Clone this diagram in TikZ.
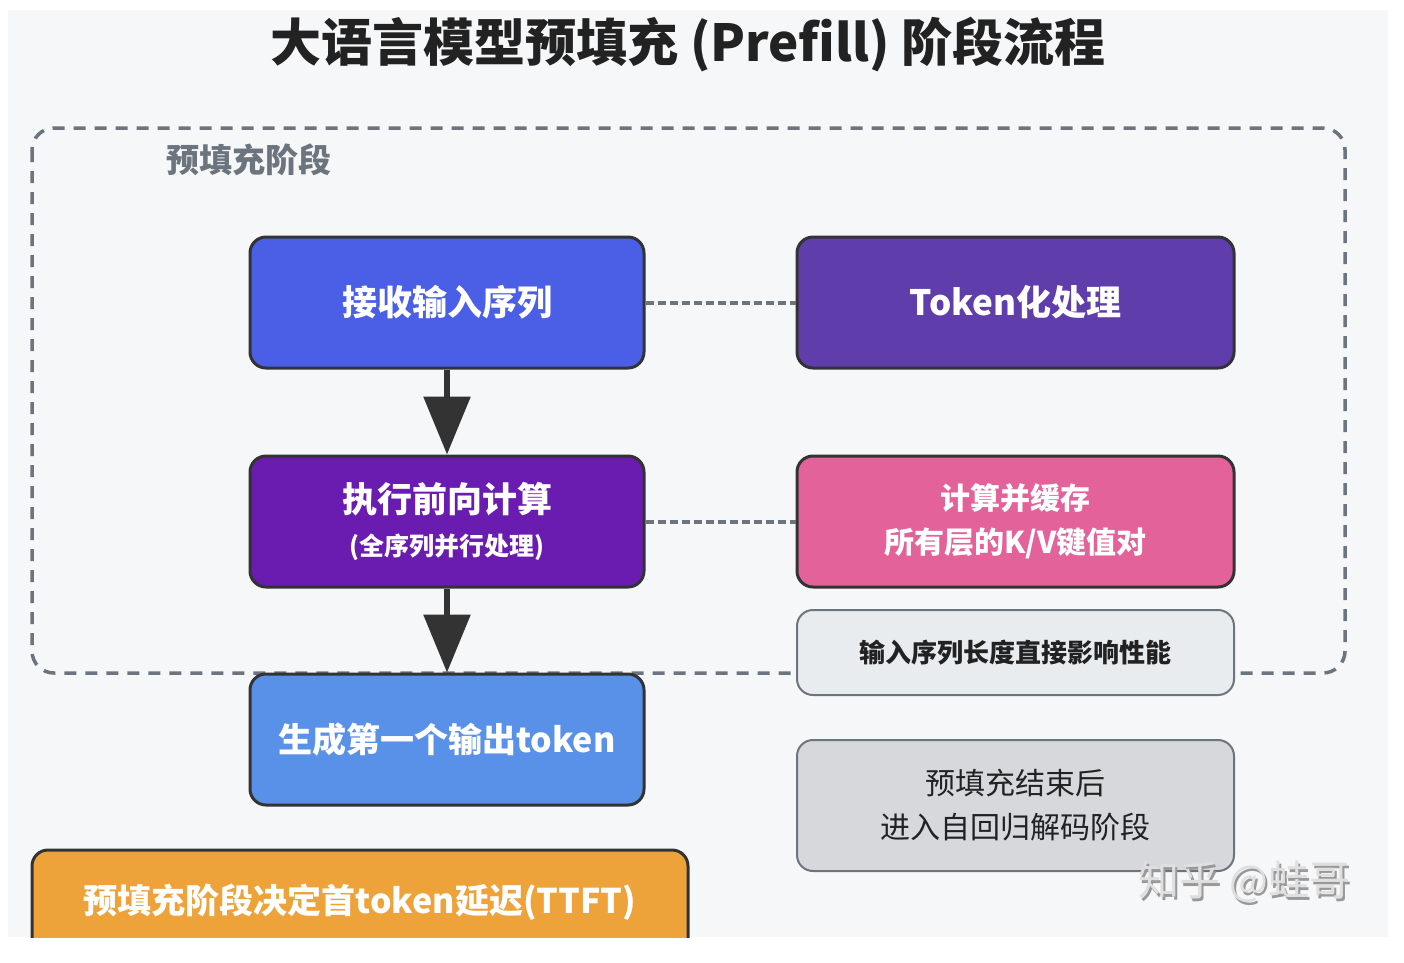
\documentclass[tikz,border=0pt]{standalone}
\usepackage{fontspec}
\setmainfont{Noto Sans CJK SC}
\usetikzlibrary{arrows.meta}
\definecolor{bgc}{HTML}{F6F7F9}
\definecolor{cA}{HTML}{4A5FE6}
\definecolor{cB}{HTML}{5F3DAB}
\definecolor{cC}{HTML}{6A1BB0}
\definecolor{cD}{HTML}{E3629A}
\definecolor{cE}{HTML}{E9ECEF}
\definecolor{cF}{HTML}{5A91E8}
\definecolor{cG}{HTML}{D6D8DB}
\definecolor{cH}{HTML}{EEA23A}
\definecolor{edge}{HTML}{333333}
\definecolor{gedge}{HTML}{6C757D}
\definecolor{ttl}{HTML}{222222}
\tikzset{
  box/.style={draw=edge, line width=3pt, rounded corners=16pt, text=white, font=\bfseries, align=center, inner sep=0pt},
  gbox/.style={draw=gedge, line width=2pt, rounded corners=16pt, text=ttl, align=center, inner sep=0pt},
  flow/.style={draw=edge, line width=6pt, -{Triangle[length=58pt,width=46pt]}},
  link/.style={draw=gedge, line width=4pt, dash pattern=on 8pt off 4pt},
}
\begin{document}
\begin{tikzpicture}[x=1pt,y=-1pt]
\useasboundingbox (0,0) rectangle (1404,962);
\fill[white] (0,0) rectangle (1404,962);
\fill[bgc] (8,10) rectangle (1388,937);
\node[font=\bfseries\fontsize{51}{56}\selectfont, text=ttl] (title) at (688,45) {大语言模型预填充 (Prefill) 阶段流程};
\draw[gedge, line width=3.5pt, dash pattern=on 12pt off 9pt, rounded corners=22pt] (32,128) rectangle (1345,673);
\node[font=\bfseries\fontsize{33}{38}\selectfont, text=gedge, anchor=west] (lbl) at (163,160) {预填充阶段};
\node[box, fill=cA, minimum width=394pt, minimum height=131pt, font=\bfseries\fontsize{35}{40}\selectfont] (A) at (447,302.5) {接收输入序列};
\node[box, fill=cB, minimum width=437pt, minimum height=131pt, font=\bfseries\fontsize{35}{40}\selectfont] (B) at (1015.5,302.5) {Token化处理};
\node[box, fill=cC, minimum width=394pt, minimum height=131pt] (C) at (447,521.5) {{\fontsize{35}{40}\selectfont 执行前向计算}\\[17pt]{\fontsize{25}{30}\selectfont (全序列并行处理)}};
\node[box, fill=cD, minimum width=437pt, minimum height=131pt, font=\bfseries\fontsize{30}{44}\selectfont] (D) at (1015.5,521.5) {计算并缓存\\所有层的K/V键值对};
\node[box, fill=cF, minimum width=394pt, minimum height=131pt, font=\bfseries\fontsize{34}{40}\selectfont] (F) at (447,739.5) {生成第一个输出token};
\node[gbox, fill=cE, minimum width=437pt, minimum height=85pt, font=\bfseries\fontsize{26}{30}\selectfont] (E) at (1015.5,652.5) {输入序列长度直接影响性能};
\node[gbox, fill=cG, minimum width=437pt, minimum height=131pt, font=\fontsize{30}{44}\selectfont] (G) at (1015.5,805.5) {预填充结束后\\进入自回归解码阶段};
\begin{scope}
\clip (0,0) rectangle (1404,937);
\node[box, fill=cH, minimum width=656pt, minimum height=131pt] (H) at (360,915.5) {};
\end{scope}
\node[text=white, font=\bfseries\fontsize{34}{38}\selectfont] (Ht) at (360,902) {预填充阶段决定首token延迟(TTFT)};
\draw[flow] (A) -- (C);
\draw[flow] (C) -- (F);
\draw[link] (A) -- (B);
\draw[link] (C) -- (D);
\node[text=gray!80, font=\fontsize{41}{45}\selectfont] (wms) at (1246.5,884.5) {知乎 @蛙哥};
\node[text=gray!25, font=\fontsize{41}{45}\selectfont] (wm) at (1244,882) {知乎 @蛙哥};
\end{tikzpicture}
\end{document}
